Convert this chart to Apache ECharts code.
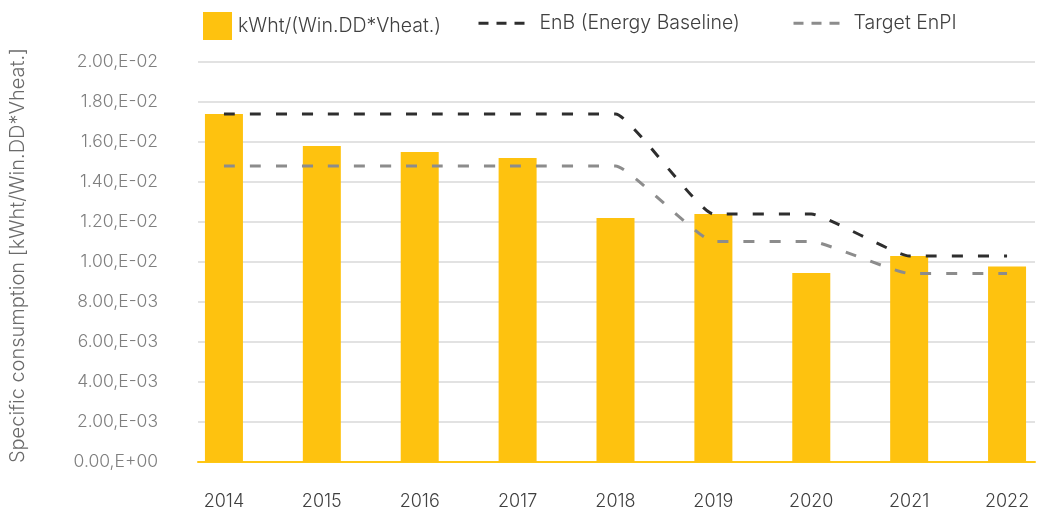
<!DOCTYPE html>
<html>
<head>
<meta charset="utf-8">
<script src="https://cdn.jsdelivr.net/npm/echarts@6/dist/echarts.min.js"></script>
<style>
  html, body { margin: 0; padding: 0; background: #fff; overflow: hidden; width: 1038px; height: 516px; }
  #chart { width: 1060px; height: 516px; }
</style>
</head>
<body>
<div id="chart"></div>
<script>
const categories = ['2014', '2015', '2016', '2017', '2018', '2019', '2020', '2021', '2022'];
const consumption = [0.0174, 0.0158, 0.0155, 0.0152, 0.0122, 0.0124, 0.00945, 0.0103, 0.00977];
const baseline = [0.0174, 0.0174, 0.0174, 0.0174, 0.0174, 0.0124, 0.0124, 0.0103, 0.0103];
const target = [0.0148, 0.0148, 0.0148, 0.0148, 0.0148, 0.01103, 0.01103, 0.00943, 0.00943];
const yTicks = ['0.00,E+00', '2.00,E-03', '4.00,E-03', '6.00,E-03', '8.00,E-03', '1.00,E-02', '1.20,E-02', '1.40,E-02', '1.60,E-02', '1.80,E-02', '2.00,E-02'];

const seriesNames = ['kWht/(Win.DD*Vheat.)', 'EnB (Energy Baseline)', 'Target EnPI'];
const FONT = 'Inter';
const BAR = '#FEC20F';

const chart = echarts.init(document.getElementById('chart'), null, { renderer: 'canvas' });
const lineLegendIconStyle = { color: 'rgba(0,0,0,0)', borderWidth: 0 };
const legendText = (pad) => ({ fontSize: 19.5, fontWeight: 300, color: '#404040', fontFamily: FONT, padding: [0, 0, 0, pad] });
chart.setOption({
  animation: false,
  textStyle: { fontFamily: FONT },
  legend: [
    {
      left: 198, top: 7, itemWidth: 29, itemHeight: 28, itemGap: 0,
      data: [{ name: seriesNames[0], icon: 'rect' }],
      textStyle: legendText(1)
    },
    {
      left: 472, top: 7, itemWidth: 46, itemHeight: 28,
      data: [seriesNames[1]],
      itemStyle: lineLegendIconStyle,
      lineStyle: { type: [10, 8], width: 3 },
      textStyle: legendText(10)
    },
    {
      left: 787, top: 7, itemWidth: 46, itemHeight: 28,
      data: [seriesNames[2]],
      itemStyle: lineLegendIconStyle,
      lineStyle: { type: [10, 8], width: 3 },
      textStyle: legendText(9)
    }
  ],
  grid: [
    { left: 198, right: 25, top: 62, bottom: 54, containLabel: false },
    { left: 175, right: 4, top: 62, bottom: 54, containLabel: false }
  ],
  xAxis: [
    {
      gridIndex: 0, type: 'category', data: categories,
      axisLine: { show: true, lineStyle: { color: '#FEC714', width: 2 } },
      axisTick: { show: false }, axisLabel: { show: false }, splitLine: { show: false }
    },
    {
      gridIndex: 1, type: 'category', data: categories,
      axisLine: { show: false }, axisTick: { show: false },
      axisLabel: { fontSize: 18, fontWeight: 300, color: '#404040', margin: 31, fontFamily: FONT }
    }
  ],
  yAxis: [
    {
      gridIndex: 0, type: 'value', min: 0, max: 0.02, interval: 0.002,
      axisLine: { show: false }, axisTick: { show: false },
      axisLabel: {
        fontSize: 17.5, fontWeight: 300, color: '#7f7f7f', margin: 40, fontFamily: FONT,
        formatter: (v) => yTicks[Math.round(v / 0.002)]
      },
      splitLine: { show: true, lineStyle: { color: '#d9d9d9', width: 1.5 } },
      name: 'Specific consumption [kWht/Win.DD*Vheat.]',
      nameLocation: 'middle', nameRotate: 90, nameGap: 170,
      nameTextStyle: { fontSize: 20, fontWeight: 300, color: '#6b6b6b', fontFamily: FONT, padding: [0, 0, 0, 13] }
    },
    {
      gridIndex: 1, type: 'value', min: 0, max: 0.02, interval: 0.002,
      show: false, splitLine: { show: false }
    }
  ],
  series: [
    {
      name: seriesNames[0], type: 'bar', xAxisIndex: 1, yAxisIndex: 1,
      data: consumption, barWidth: 38,
      itemStyle: { color: BAR }
    },
    {
      name: seriesNames[1], type: 'line', xAxisIndex: 1, yAxisIndex: 1,
      data: baseline, symbol: 'none', smooth: 0.12,
      itemStyle: { color: '#2e2e2e' },
      lineStyle: { color: '#2e2e2e', width: 3, type: [11, 15], cap: 'butt' },
      z: 3
    },
    {
      name: seriesNames[2], type: 'line', xAxisIndex: 1, yAxisIndex: 1,
      data: target, symbol: 'none', smooth: 0.12,
      itemStyle: { color: '#8c8c8c' },
      lineStyle: { color: '#8c8c8c', width: 3, type: [11, 15], cap: 'butt' },
      z: 3
    }
  ]
});
</script>
</body>
</html>
